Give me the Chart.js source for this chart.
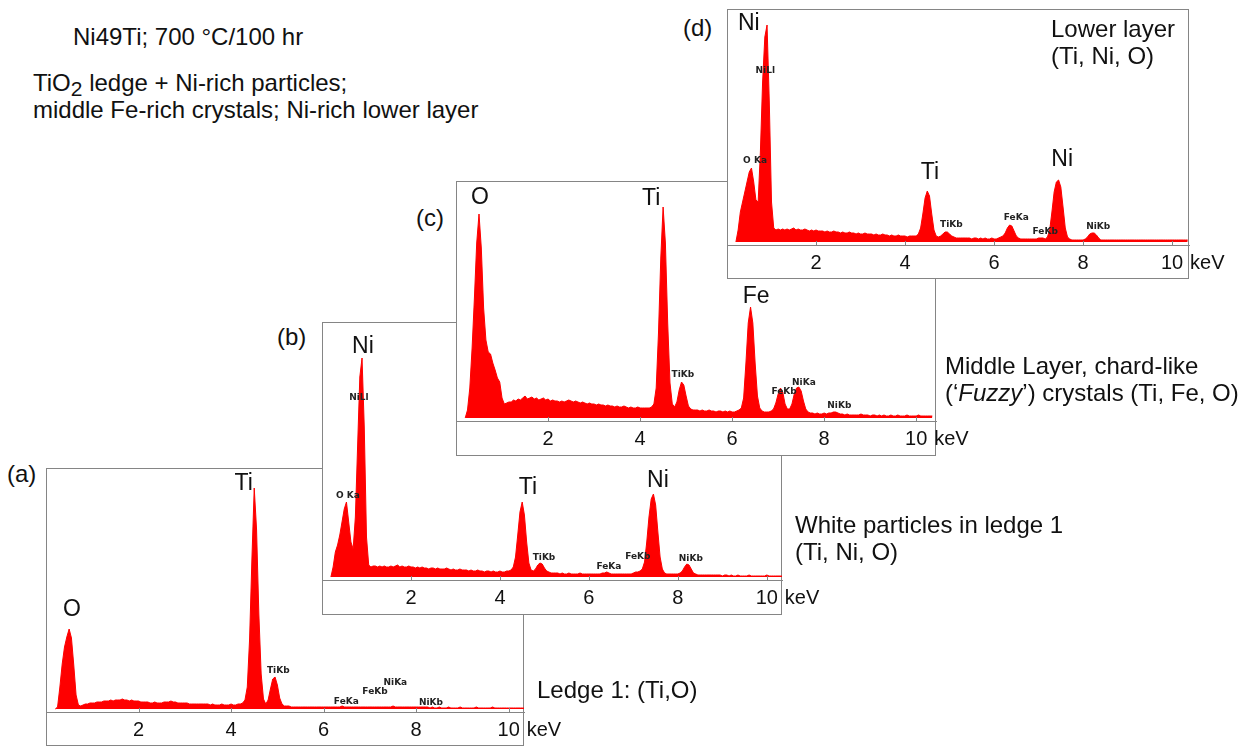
<!DOCTYPE html>
<html>
<head>
<meta charset="utf-8">
<title>EDS spectra, Ni49Ti 700 °C/100 hr</title>
<script src="https://cdn.jsdelivr.net/npm/chart.js@4.4.1/dist/chart.umd.min.js"></script>
<style>
  html, body { margin: 0; padding: 0; background: #fff; }
  body { width: 1251px; height: 747px; position: relative; overflow: hidden;
         font-family: "Liberation Sans", Arial, sans-serif; color: #111; }
  canvas { position: absolute; }
  .txt { position: absolute; font-size: 24px; line-height: 27px; white-space: nowrap; }
  .txt sub { font-size: 21px; vertical-align: -5px; line-height: 0; }
</style>
</head>
<body>
<canvas id="specA"></canvas>
<canvas id="specB"></canvas>
<canvas id="specC"></canvas>
<canvas id="specD"></canvas>

<div class="txt" style="left:73px;top:23px">Ni49Ti; 700 °C/100 hr</div>
<div class="txt" style="left:33px;top:69px">TiO<sub>2</sub> ledge + Ni-rich particles;<br>middle Fe-rich crystals; Ni-rich lower layer</div>

<div class="txt" style="left:7px;top:460px">(a)</div>
<div class="txt" style="left:277px;top:323px">(b)</div>
<div class="txt" style="left:416px;top:204px">(c)</div>
<div class="txt" style="left:683px;top:14px">(d)</div>

<div class="txt" style="left:537px;top:676px">Ledge 1: (Ti,O)</div>
<div class="txt" style="left:795px;top:511px">White particles in ledge 1<br>(Ti, Ni, O)</div>
<div class="txt" style="left:945px;top:352px">Middle Layer, chard-like<br>(‘<i>Fuzzy</i>’) crystals (Ti, Fe, O)</div>
<div class="txt" style="left:1051px;top:15px">Lower layer<br>(Ti, Ni, O)</div>

<script>
// channel calibration of the spectra (keV)
const kevStart = 0.20;
const kevStep = 0.05;
const tickKeV = [2, 4, 6, 8, 10];

// (a) Ledge 1: Ti, O
const countsA = [
  0, 2, 22, 45, 62, 72, 80, 71, 44, 14, 4, 3, 4, 5, 5, 6, 6, 6, 7, 7,
  7, 8, 8, 8, 9, 8, 9, 9, 9, 10, 9, 9, 8, 9, 8, 8, 8, 7, 7, 7,
  7, 6, 6, 7, 6, 6, 6, 7, 7, 7, 8, 7, 7, 6, 6, 6, 6, 6, 5, 5,
  5, 5, 5, 5, 5, 5, 5, 4, 5, 4, 4, 4, 5, 4, 4, 4, 5, 4, 4, 5,
  5, 6, 9, 22, 70, 150, 221, 180, 95, 35, 10, 5, 9, 20, 30, 32, 24, 11, 5, 3,
  3, 3, 2, 2, 2, 2, 2, 2, 2, 2, 2, 2, 2, 2, 2, 2, 2, 2, 2, 2,
  2, 2, 2, 2, 3, 2, 2, 2, 2, 2, 2, 2, 2, 2, 2, 2, 2, 2, 2, 2,
  2, 2, 2, 2, 2, 2, 3, 2, 2, 2, 2, 2, 2, 2, 2, 2, 2, 2, 2, 2,
  2, 2, 1, 2, 1, 1, 2, 1, 1, 1, 2, 1, 1, 1, 1, 2, 1, 1, 1, 1,
  1, 1, 2, 1, 1, 1, 1, 1, 1, 2, 1, 1, 1, 1, 1, 1, 1, 1, 1, 1,
  1, 1, 1, 1
];
const peaksA = [['O', 0.56, 99], ['Ti', 4.27, 225]];
const linesA = [['TiKb', 5.02, 38], ['FeKa', 6.49, 7], ['FeKb', 7.11, 17], ['NiKa', 7.55, 26], ['NiKb', 8.32, 6]];

// (b) white particles: Ti, Ni, O
const countsB = [
  0, 10, 25, 32, 42, 55, 68, 75, 55, 35, 28, 60, 130, 200, 219, 150, 40, 12, 10, 11,
  11, 10, 11, 10, 11, 10, 10, 11, 10, 11, 12, 10, 11, 10, 10, 11, 10, 10, 9, 10,
  9, 10, 9, 9, 8, 9, 9, 8, 9, 8, 8, 8, 9, 8, 7, 8, 7, 7, 8, 7,
  7, 7, 6, 7, 6, 6, 7, 6, 6, 5, 6, 6, 5, 6, 5, 5, 6, 5, 5, 6,
  6, 7, 10, 20, 42, 65, 75, 62, 35, 14, 7, 6, 8, 12, 14, 13, 9, 6, 5, 4,
  4, 4, 4, 3, 4, 3, 3, 4, 3, 3, 3, 3, 4, 3, 3, 3, 3, 3, 3, 3,
  3, 3, 4, 4, 5, 4, 3, 3, 3, 3, 3, 3, 3, 3, 3, 3, 4, 5, 5, 6,
  8, 15, 35, 60, 78, 83, 72, 45, 20, 8, 4, 3, 3, 3, 3, 3, 3, 4, 6, 10,
  13, 12, 8, 4, 3, 2, 2, 2, 2, 2, 2, 2, 2, 2, 2, 2, 1, 2, 2, 1,
  2, 1, 1, 2, 1, 1, 1, 1, 2, 1, 1, 1, 1, 1, 1, 1, 2, 1, 1, 1,
  1, 1, 1, 1
];
const peaksB = [['Ni', 0.92, 230], ['Ti', 4.63, 89], ['Ni', 7.55, 96]];
const linesB = [['NiLl', 0.83, 179], ['O Ka', 0.58, 81], ['TiKb', 4.99, 19], ['FeKa', 6.45, 10], ['FeKb', 7.10, 20], ['NiKb', 8.29, 18]];

// (c) middle layer: Ti, Fe, O
const countsC = [
  0, 8, 30, 70, 120, 175, 204, 170, 110, 78, 66, 64, 55, 48, 40, 36, 20, 14, 15, 16,
  16, 18, 17, 19, 18, 20, 22, 19, 20, 21, 19, 20, 18, 19, 20, 18, 19, 17, 18, 17,
  17, 16, 17, 16, 17, 18, 17, 16, 17, 16, 15, 16, 15, 14, 15, 14, 14, 13, 14, 13,
  13, 12, 13, 12, 12, 11, 12, 11, 11, 12, 11, 10, 11, 10, 10, 11, 10, 10, 10, 10,
  10, 11, 14, 30, 85, 160, 211, 175, 95, 35, 14, 11, 16, 28, 36, 33, 22, 12, 9, 8,
  8, 8, 7, 8, 7, 7, 8, 7, 7, 6, 7, 7, 6, 7, 6, 7, 6, 6, 7, 8,
  10, 20, 55, 95, 111, 95, 55, 22, 10, 7, 6, 6, 6, 7, 9, 15, 24, 30, 26, 14,
  9, 9, 14, 24, 30, 31, 27, 17, 9, 6, 5, 5, 4, 5, 4, 4, 5, 4, 5, 5,
  6, 6, 5, 4, 4, 3, 4, 3, 3, 3, 3, 3, 4, 3, 3, 3, 2, 3, 3, 2,
  3, 2, 3, 2, 2, 3, 2, 2, 3, 2, 2, 2, 3, 2, 2, 2, 2, 3, 2, 2,
  2, 2, 2, 2
];
const peaksC = [['O', 0.52, 220], ['Ti', 4.24, 219], ['Fe', 6.52, 121]];
const linesC = [['TiKb', 4.93, 43], ['FeKb', 7.13, 26], ['NiKa', 7.56, 35], ['NiKb', 8.33, 12]];

// (d) lower layer: Ti, Ni, O
const countsD = [
  0, 12, 30, 40, 50, 60, 70, 74, 60, 42, 40, 90, 160, 205, 217, 140, 40, 14, 12, 13,
  12, 13, 12, 13, 12, 13, 14, 12, 13, 12, 12, 13, 12, 11, 12, 11, 12, 11, 11, 11,
  10, 11, 10, 10, 11, 10, 10, 9, 10, 9, 9, 10, 9, 9, 8, 9, 8, 8, 9, 8,
  8, 8, 7, 8, 7, 7, 8, 7, 7, 6, 7, 6, 6, 7, 6, 6, 6, 5, 6, 6,
  6, 6, 8, 14, 28, 44, 51, 46, 28, 12, 6, 5, 6, 8, 10, 10, 8, 6, 5, 4,
  4, 4, 4, 4, 4, 4, 3, 4, 4, 3, 4, 3, 4, 3, 3, 4, 3, 3, 4, 5,
  6, 9, 14, 17, 16, 11, 6, 4, 3, 3, 3, 3, 3, 3, 3, 3, 4, 4, 4, 3,
  5, 12, 30, 50, 60, 62, 55, 35, 14, 5, 3, 2, 2, 2, 2, 2, 2, 3, 5, 8,
  9, 9, 7, 4, 2, 2, 2, 2, 2, 2, 2, 2, 2, 2, 2, 2, 2, 2, 2, 2,
  2, 2, 2, 2, 2, 2, 2, 2, 2, 2, 2, 2, 2, 2, 2, 2, 2, 2, 2, 2,
  2, 2, 2, 2
];
const peaksD = [['Ni', 0.49, 218], ['Ti', 4.56, 69], ['Ni', 7.53, 82]];
const linesD = [['NiLl', 0.86, 171], ['O Ka', 0.63, 81], ['TiKb', 5.04, 17], ['FeKa', 6.50, 24], ['FeKb', 7.15, 10], ['NiKb', 8.34, 15]];

const RED = '#fe0000';
const GREY = '#858585';
const FONT = '"Liberation Sans", Arial, sans-serif';
const EXTRA = 60; // room right of the frame for the "keV" unit

// frame and placement of each spectrum on the page
const panels = [
  { id: 'specA', x: 46, y: 468, w: 478, h: 278, axisY: 712, xMax: 10.33, counts: countsA, peaks: peaksA, lines: linesA },
  { id: 'specB', x: 322, y: 322, w: 460, h: 293, axisY: 580, xMax: 10.34, counts: countsB, peaks: peaksB, lines: linesB },
  { id: 'specC', x: 456, y: 181, w: 480, h: 275, axisY: 421, xMax: 10.43, counts: countsC, peaks: peaksC, lines: linesC },
  { id: 'specD', x: 727, y: 9, w: 462, h: 270, axisY: 245, xMax: 10.38, counts: countsD, peaks: peaksD, lines: linesD }
];

// white frame behind the spectrum, so later panels cover earlier ones
const framePlugin = p => ({
  id: 'frame',
  beforeDraw(chart) {
    const ctx = chart.ctx;
    ctx.save();
    ctx.fillStyle = '#fff';
    ctx.fillRect(0, 0, p.w, p.h);
    ctx.strokeStyle = GREY;
    ctx.lineWidth = 1;
    ctx.strokeRect(0.5, 0.5, p.w - 1, p.h - 1);
    ctx.restore();
  }
});

// inward ticks, unit and peak names
const annotatePlugin = p => ({
  id: 'annotate',
  afterDraw(chart) {
    const { ctx, chartArea } = chart;
    const sx = chart.scales.x, sy = chart.scales.y;
    ctx.save();
    ctx.strokeStyle = GREY;
    ctx.lineWidth = 1;
    tickKeV.forEach(v => {
      const px = Math.round(sx.getPixelForValue(v)) + 0.5;
      ctx.beginPath();
      ctx.moveTo(px, chartArea.bottom);
      ctx.lineTo(px, chartArea.bottom - 4);
      ctx.stroke();
    });

    ctx.fillStyle = '#111';
    ctx.textBaseline = 'middle';
    ctx.font = '20px ' + FONT;
    ctx.textAlign = 'left';
    ctx.fillText('keV', sx.getPixelForValue(10) + 18, chartArea.bottom + 18);

    ctx.textAlign = 'center';
    ctx.font = '23px ' + FONT;
    p.peaks.forEach(([t, e, c]) => ctx.fillText(t, sx.getPixelForValue(e), sy.getPixelForValue(c)));

    ctx.fillStyle = '#222';
    ctx.font = 'bold 9px "DejaVu Sans", sans-serif';
    p.lines.forEach(([t, e, c]) => ctx.fillText(t, sx.getPixelForValue(e), sy.getPixelForValue(c)));
    ctx.restore();
  }
});

function buildPanel(p) {
  const cv = document.getElementById(p.id);
  const cw = p.w + EXTRA;
  cv.width = cw;
  cv.height = p.h;
  cv.style.left = p.x + 'px';
  cv.style.top = p.y + 'px';
  cv.style.width = cw + 'px';
  cv.style.height = p.h + 'px';

  const plotH = p.axisY - p.y;
  const pts = p.counts.map((c, i) => ({ x: +(kevStart + i * kevStep).toFixed(2), y: c }));

  return new Chart(cv, {
    type: 'line',
    data: {
      datasets: [{
        data: pts,
        fill: 'origin',
        backgroundColor: RED,
        borderColor: RED,
        borderWidth: 1,
        pointRadius: 0,
        tension: 0
      }]
    },
    options: {
      responsive: false,
      animation: false,
      devicePixelRatio: 1,
      layout: { padding: { left: 0, top: 0, right: EXTRA, bottom: 0 } },
      plugins: { legend: { display: false }, tooltip: { enabled: false } },
      scales: {
        x: {
          type: 'linear',
          min: 0,
          max: p.xMax,
          afterBuildTicks: s => { s.ticks = tickKeV.map(v => ({ value: v })); },
          afterFit: s => { s.height = p.h - plotH; },
          grid: { display: false, drawTicks: false },
          border: { display: true, color: GREY, width: 1 },
          ticks: {
            padding: 6,
            color: '#111',
            font: { family: FONT, size: 20 },
            maxRotation: 0,
            autoSkip: false
          }
        },
        y: { display: false, min: -3, max: plotH - 3 }
      }
    },
    plugins: [framePlugin(p), annotatePlugin(p)]
  });
}

panels.forEach(buildPanel);
</script>
</body>
</html>
